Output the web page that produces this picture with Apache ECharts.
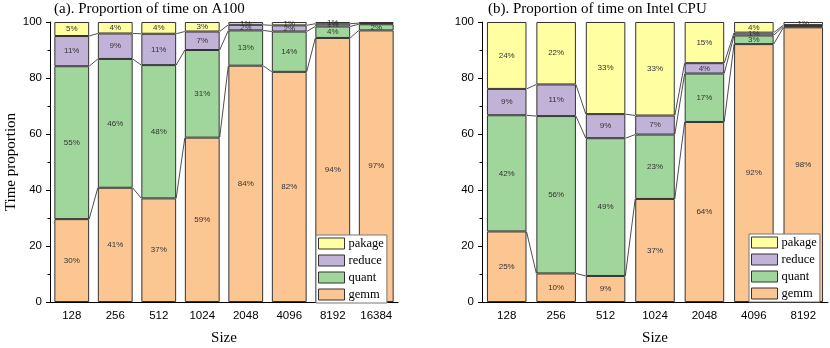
<!DOCTYPE html>
<html>
<head>
<meta charset="utf-8">
<script src="https://cdn.jsdelivr.net/npm/echarts@6/dist/echarts.min.js"></script>
<style>
  html, body { margin: 0; padding: 0; background: #fff; }
  #main { width: 830px; height: 348px; }
</style>
</head>
<body>
<div id="main"></div>
<script>
// (a) A100
const sizesA = ['128', '256', '512', '1024', '2048', '4096', '8192', '16384'];
const gemmA = [29.6, 40.8, 37.0, 58.7, 84.4, 82.2, 94.3, 97.0];
const quantA = [54.6, 46.0, 47.6, 31.3, 12.6, 14.4, 4.1, 2.2];
const reduceA = [10.8, 9.1, 11.2, 6.6, 2.0, 2.2, 1.0, 0.4];
const pakageA = [5.0, 4.1, 4.2, 3.4, 1.0, 1.2, 0.6, 0.4];

// (b) Intel CPU
const sizesB = ['128', '256', '512', '1024', '2048', '4096', '8192'];
const gemmB = [25.2, 10.2, 9.3, 36.8, 64.3, 92.1, 98.1];
const quantB = [41.5, 56.2, 49.2, 23.0, 17.3, 3.1, 0.4];
const reduceB = [9.4, 11.3, 8.6, 6.8, 3.7, 1.0, 0.4];
const pakageB = [23.9, 22.3, 32.9, 33.4, 14.7, 3.8, 1.1];

const yTicks = [0, 20, 40, 60, 80, 100];

const colors = {
  gemm: '#FCC693',
  quant: '#A0D69C',
  reduce: '#C1B2D8',
  pakage: '#FFFFA2'
};
const serif = '"Liberation Serif", "Times New Roman", serif';
const sans = '"Liberation Sans", Arial, sans-serif';
const BAR = 0.8;

var myChart = echarts.init(document.getElementById('main'));

function cumulate(parts) {
  // running sums of the stacked segments, bottom to top
  let acc = parts[0].map(() => 0);
  return parts.map(p => {
    acc = acc.map((a, i) => a + p[i]);
    return acc;
  });
}

function barSeries(name, data, idx) {
  return {
    name: name,
    type: 'bar',
    stack: 'g' + idx,
    xAxisIndex: idx * 2,
    yAxisIndex: idx,
    barWidth: (BAR * 100) + '%',
    data: data,
    itemStyle: { color: colors[name], borderColor: '#333', borderWidth: 1 },
    label: {
      show: true,
      position: 'inside',
      fontFamily: sans,
      fontSize: 8,
      color: '#333',
      formatter: p => Math.round(p.value) >= 1 ? Math.round(p.value) + '%' : ''
    }
  };
}

// thin lines joining the stack boundaries of neighbouring bars
function linkSeries(levels, n, idx) {
  return {
    type: 'custom',
    xAxisIndex: idx * 2,
    yAxisIndex: idx,
    z: 5,
    silent: true,
    data: Array.from({ length: n - 1 }, (_, i) => [i, 0]),
    renderItem(params, api) {
      const i = params.dataIndex;
      const half = api.size([1, 0])[0] * BAR / 2;
      return {
        type: 'group',
        children: levels.map(lv => {
          const p0 = api.coord([i, lv[i]]);
          const p1 = api.coord([i + 1, lv[i + 1]]);
          return {
            type: 'line',
            shape: { x1: p0[0] + half, y1: p0[1], x2: p1[0] - half, y2: p1[1] },
            style: { stroke: '#222', lineWidth: 0.8 }
          };
        })
      };
    }
  };
}

function xAxes(cats, idx) {
  return [
    {
      type: 'category', gridIndex: idx, data: cats,
      name: 'Size', nameLocation: 'middle', nameGap: 29,
      nameTextStyle: { fontFamily: serif, fontSize: 15, color: '#000' },
      axisLine: { lineStyle: { color: '#000', width: 1 } },
      axisTick: { alignWithLabel: true, length: 4, lineStyle: { color: '#000' } },
      axisLabel: { fontFamily: sans, fontSize: 11.5, color: '#000', margin: 8, interval: 0 }
    },
    {
      type: 'category', gridIndex: idx, data: cats, position: 'bottom',
      axisLine: { show: false },
      axisTick: { length: 2.5, interval: 0, lineStyle: { color: '#000' } },
      axisLabel: { show: false }
    }
  ];
}

function yAxis(idx, withName) {
  return {
    type: 'value', gridIndex: idx, min: yTicks[0], max: yTicks[yTicks.length - 1], interval: 20,
    name: withName ? 'Time proportion' : '', nameLocation: 'middle', nameGap: 31,
    nameTextStyle: { fontFamily: serif, fontSize: 15, color: '#000' },
    axisLine: { show: true, lineStyle: { color: '#000', width: 1 } },
    axisTick: { show: true, length: 4, lineStyle: { color: '#000' } },
    minorTick: { show: true, splitNumber: 2, length: 2.5, lineStyle: { color: '#000' } },
    splitLine: { show: false },
    axisLabel: { fontFamily: sans, fontSize: 11.5, color: '#000', margin: 8 }
  };
}

function legend(left, top, idx) {
  return {
    orient: 'vertical', left: left, top: top,
    data: ['pakage', 'reduce', 'quant', 'gemm'],
    itemWidth: 26, itemHeight: 11, itemGap: 4,
    padding: [2, 3, 2, 2],
    borderColor: '#777', borderWidth: 1, backgroundColor: '#fff',
    icon: 'rect',
    itemStyle: { borderColor: '#333', borderWidth: 1 },
    textStyle: { fontFamily: serif, fontSize: 12.5, color: '#000', padding: [0, 0, 0, -1] },
    selectedMode: false,
    z: 10
  };
}

const levelsA = cumulate([gemmA, quantA, reduceA]);
const levelsB = cumulate([gemmB, quantB, reduceB]);

var option = {
  animation: false,
  backgroundColor: '#fff',
  title: [
    { text: '(a). Proportion of time on A100', left: 54, top: 2, padding: 0,
      textStyle: { fontFamily: serif, fontSize: 15, fontWeight: 'normal', color: '#000' } },
    { text: '(b). Proportion of time on Intel CPU', left: 488, top: 2, padding: 0,
      textStyle: { fontFamily: serif, fontSize: 15, fontWeight: 'normal', color: '#000' } }
  ],
  grid: [
    { left: 50, top: 22, width: 348, height: 280, outerBoundsMode: 'none', containLabel: false },
    { left: 482, top: 22, width: 346, height: 280, outerBoundsMode: 'none', containLabel: false }
  ],
  legend: [legend(316, 235, 0), legend(749, 234, 1)],
  xAxis: xAxes(sizesA, 0).concat(xAxes(sizesB, 1)),
  yAxis: [yAxis(0, true), yAxis(1, false)],
  series: [
    barSeries('gemm', gemmA, 0),
    barSeries('quant', quantA, 0),
    barSeries('reduce', reduceA, 0),
    barSeries('pakage', pakageA, 0),
    linkSeries(levelsA, sizesA.length, 0),
    barSeries('gemm', gemmB, 1),
    barSeries('quant', quantB, 1),
    barSeries('reduce', reduceB, 1),
    barSeries('pakage', pakageB, 1),
    linkSeries(levelsB, sizesB.length, 1)
  ]
};

myChart.setOption(option);
</script>
</body>
</html>
